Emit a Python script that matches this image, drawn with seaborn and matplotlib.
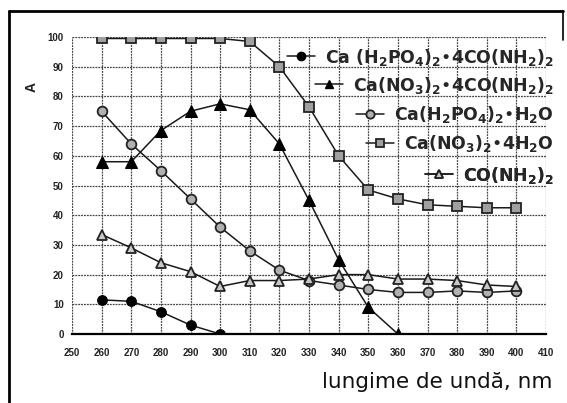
import matplotlib
matplotlib.use("Agg")
import matplotlib.pyplot as plt
import seaborn as sns
import pandas as pd
from matplotlib.lines import Line2D

sns.set_theme(style="white")
plt.rcParams['font.family'] = ['Liberation Sans', 'DejaVu Sans']
plt.rcParams['mathtext.default'] = 'regular'

# ---- data ----
wl_full = [260, 270, 280, 290, 300, 310, 320, 330, 340, 350, 360, 370, 380, 390, 400]
wl_s1 = [260, 270, 280, 290, 300]
s1 = [11.5, 11, 7.5, 3, 0]                                  # Ca(H2PO4)2*4CO(NH2)2
wl_s2 = [260, 270, 280, 290, 300, 310, 320, 330, 340, 350, 360]
s2 = [58, 58, 68.5, 75, 77.5, 75.5, 64, 45, 25, 9, 0]       # Ca(NO3)2*4CO(NH2)2
s3 = [75, 64, 55, 45.5, 36, 28, 21.5, 18, 16.5, 15, 14, 14, 14.5, 14, 14.5]   # Ca(H2PO4)2*H2O
s4 = [99.5, 99.5, 99.5, 99.5, 99.5, 98.5, 90, 76.5, 60, 48.5, 45.5, 43.5, 43, 42.5, 42.5]  # Ca(NO3)2*4H2O
s5 = [33.5, 29, 24, 21, 16, 18, 18, 18.5, 20, 20, 18.5, 18.5, 18, 16.5, 16]   # CO(NH2)2

labels = [
    r'Ca (H$_2$PO$_4$)$_2$•4CO(NH$_2$)$_2$',
    r'Ca(NO$_3$)$_2$•4CO(NH$_2$)$_2$',
    r'Ca(H$_2$PO$_4$)$_2$•H$_2$O',
    r'Ca(NO$_3$)$_2$•4H$_2$O',
    r'CO(NH$_2$)$_2$',
]
x_ticks = list(range(250, 411, 10))
y_ticks = list(range(0, 101, 10))

fig = plt.figure(figsize=(5.67, 4.03), dpi=100)
ax = fig.add_axes([72 / 567, 1 - 334 / 403, (546 - 72) / 567, (334 - 37) / 403])

series = [
    (wl_s1, s1, dict(marker='o', markerfacecolor='black', markeredgecolor='black', markersize=7)),
    (wl_s2, s2, dict(marker='^', markerfacecolor='black', markeredgecolor='black', markersize=8)),
    (wl_full, s3, dict(marker='o', markerfacecolor='#b0b0b0', markeredgecolor='#222222', markersize=7, markeredgewidth=1.3)),
    (wl_full, s4, dict(marker='s', markerfacecolor='#a0a0a0', markeredgecolor='#222222', markersize=7, markeredgewidth=1.3)),
    (wl_full, s5, dict(marker='^', markerfacecolor='#c8c8c8', markeredgecolor='#222222', markersize=7, markeredgewidth=1.3)),
]
handles = []
for (xs, ys, kw), lab in zip(series, labels):
    df = pd.DataFrame({'x': xs, 'y': ys})
    sns.lineplot(data=df, x='x', y='y', ax=ax, color='#1a1a1a', linewidth=1.1, **kw)
    handles.append(Line2D([0], [0], color='#1a1a1a', linewidth=1.1, **{k: v for k, v in kw.items() if k != 'markersize'}, markersize=6))

ax.set_xlim(250, 410)
ax.set_ylim(0, 100)
ax.set_xticks(x_ticks)
ax.set_yticks(y_ticks)
ax.set_xticklabels([str(t) for t in x_ticks])
ax.set_yticklabels([str(t) for t in y_ticks])
ax.tick_params(axis='both', labelsize=7, colors='#222222', length=0)
ax.tick_params(axis='x', pad=10)
ax.tick_params(axis='y', pad=6)
for lab in ax.get_xticklabels() + ax.get_yticklabels():
    lab.set_fontweight('bold')
ax.grid(True, color='#444444', linewidth=0.9, linestyle=(0, (1.5, 0.8)))
ax.set_axisbelow(True)
for side in ['top', 'right', 'left']:
    ax.spines[side].set_visible(False)
ax.spines['bottom'].set_color('black')
ax.spines['bottom'].set_linewidth(1.6)

ax.set_xlabel('')
ax.set_ylabel('A', fontsize=10, fontweight='bold', color='#222222')
ax.yaxis.set_label_coords(-0.07, 0.83)

fig.text(552 / 567, 1 - 382 / 403, 'lungime de undă, nm', fontsize=15.5, ha='right', va='center',
         color='#111111', family='DejaVu Sans')

# legend entries, each right aligned
ys_leg = [57, 85, 115, 144, 175]
for h, lab, yy in zip(handles, labels, ys_leg):
    leg = ax.legend([h], [lab], loc='center right', bbox_to_anchor=(554 / 567, 1 - yy / 403),
                    bbox_transform=fig.transFigure, frameon=False, handlelength=1.6,
                    handletextpad=0.6, borderpad=0, borderaxespad=0,
                    prop=dict(family='DejaVu Sans', weight='bold', size=12.5))
    ax.add_artist(leg)

# outer chart border
fig.add_artist(Line2D([9 / 567, 9 / 567], [0, 1 - 11 / 403], transform=fig.transFigure, color='black', linewidth=2))
fig.add_artist(Line2D([9 / 567, 563 / 567], [1 - 11 / 403, 1 - 11 / 403], transform=fig.transFigure, color='black', linewidth=2))
fig.add_artist(Line2D([563 / 567, 563 / 567], [1 - 11 / 403, 1 - 40 / 403], transform=fig.transFigure, color='black', linewidth=1.2))

fig.savefig('out.png', dpi=100)
